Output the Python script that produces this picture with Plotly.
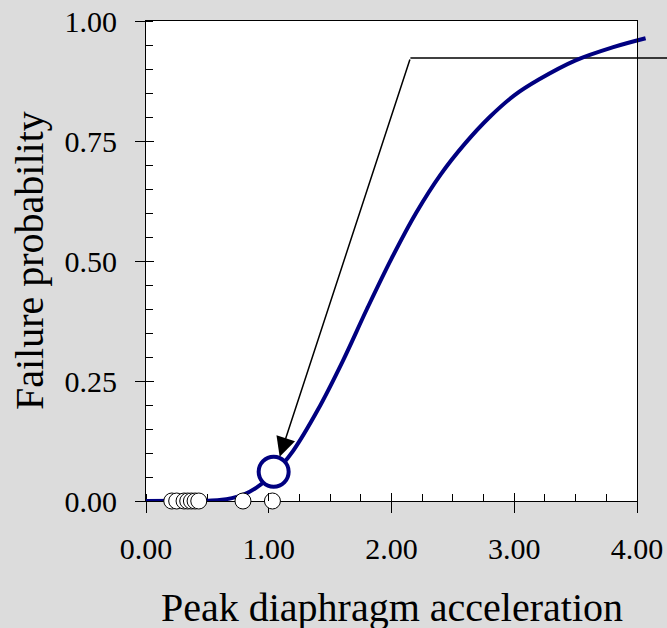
import plotly.graph_objects as go

# ---- data ----
curve_x = [0.0, 0.3, 0.5, 0.6, 0.7, 0.8, 0.9, 1.0, 1.1, 1.2, 1.4, 1.6, 1.8, 2.0,
           2.2, 2.4, 2.6, 2.8, 3.0, 3.2, 3.5, 3.8, 4.07]
curve_p = [0.0, 0.0003, 0.0006, 0.002, 0.006, 0.014, 0.028, 0.048, 0.073, 0.105,
           0.19, 0.29, 0.40, 0.505, 0.60, 0.68, 0.745, 0.80, 0.845, 0.878, 0.918,
           0.945, 0.964]

obs_x = [0.21, 0.25, 0.31, 0.34, 0.37, 0.40, 0.43, 0.79, 1.03]
obs_p = [0.0, 0.0, 0.0, 0.0, 0.0, 0.0, 0.0, 0.0, 0.0]

hl_x = [1.04]
hl_p = [0.061]

callout_x = [4.30, 2.154, 1.089]
callout_p = [0.923, 0.923, 0.092]

x_range = [0, 4]
y_range = [0, 1]
x_title = "Peak diaphragm acceleration"
y_title = "Failure probability"

# ---- geometry ----
W, H = 667, 628
ML, MR, MT, MB = 146, 0, 21, 127
plot_w = W - ML - MR
main_w = 491
D = main_w / plot_w
x2_max = x_range[1] / D

FONT = "Liberation Serif"
NAVY = "#000080"

fig = go.Figure()

fig.add_trace(go.Scatter(x=callout_x[:2], y=callout_p[:2], mode="lines",
                         line=dict(color="black", width=1.5),
                         xaxis="x2", yaxis="y", showlegend=False, hoverinfo="skip"))
fig.add_trace(go.Scatter(x=curve_x, y=curve_p, mode="lines",
                         line=dict(color=NAVY, width=4, shape="spline", smoothing=1.0),
                         xaxis="x2", yaxis="y", showlegend=False))
fig.add_trace(go.Scatter(x=obs_x, y=obs_p, mode="markers",
                         marker=dict(size=16, color="white", line=dict(color="black", width=1)),
                         cliponaxis=False, xaxis="x2", yaxis="y", showlegend=False))
fig.add_trace(go.Scatter(x=hl_x, y=hl_p, mode="markers",
                         marker=dict(size=30, color="white", line=dict(color=NAVY, width=4)),
                         cliponaxis=False, xaxis="x2", yaxis="y", showlegend=False))
fig.add_trace(go.Scatter(x=[], y=[], xaxis="x3", yaxis="y", showlegend=False))
fig.add_trace(go.Scatter(x=[], y=[], xaxis="x", yaxis="y2", showlegend=False))

fig.add_annotation(x=callout_x[2], y=callout_p[2], ax=callout_x[1], ay=callout_p[1],
                   xref="x2", yref="y", axref="x2", ayref="y", text="",
                   showarrow=True, arrowhead=2, arrowsize=2.6, arrowwidth=1.5,
                   arrowcolor="black", standoff=0)

fig.add_annotation(text=x_title, xref="x domain", yref="paper", x=0.5, y=-0.221,
                   xanchor="center", yanchor="middle", showarrow=False,
                   font=dict(family=FONT, size=40, color="black"))
fig.add_annotation(text=y_title, xref="paper", yref="y domain", x=(29 - ML) / plot_w, y=0.5,
                   xanchor="center", yanchor="middle", textangle=-90, showarrow=False,
                   font=dict(family=FONT, size=40, color="black"))

fig.add_shape(type="rect", xref="x domain", yref="y domain", x0=0, x1=1, y0=0, y1=1,
              fillcolor="white", line=dict(width=0), layer="below")

tickfont = dict(family=FONT, size=30, color="black")
fig.update_layout(
    width=W, height=H,
    margin=dict(l=ML, r=MR, t=MT, b=MB, pad=0, autoexpand=False),
    paper_bgcolor="#DCDCDC", plot_bgcolor="rgba(0,0,0,0)",
    showlegend=False,
    font=dict(family=FONT, color="black"),
    xaxis=dict(domain=[0, D], range=x_range, dtick=1, tick0=0, tickformat=".2f",
               ticks="outside", ticklen=11, tickwidth=1, tickcolor="black",
               showline=True, linecolor="black", linewidth=1, mirror=True,
               showgrid=False, zeroline=False, tickfont=tickfont, ticklabelstandoff=10,
               layer="below traces", automargin=False,
               minor=dict(dtick=0.25, ticks="inside", ticklen=7, tickwidth=1,
                          tickcolor="black", showgrid=False)),
    xaxis2=dict(domain=[0, 1], range=[0, x2_max], anchor="y", visible=False,
                automargin=False),
    xaxis3=dict(overlaying="x", range=x_range, anchor="y", side="bottom", dtick=1, tick0=0,
                ticks="inside", ticklen=8, tickwidth=1, tickcolor="black",
                showticklabels=False, showline=False, showgrid=False, zeroline=False,
                automargin=False),
    yaxis=dict(domain=[0, 1], range=y_range, dtick=0.25, tick0=0, tickformat=".2f",
               ticks="outside", ticklen=10, tickwidth=1, tickcolor="black",
               showline=True, linecolor="black", linewidth=1, mirror=True,
               showgrid=False, zeroline=False, tickfont=tickfont, ticklabelstandoff=12,
               layer="below traces", automargin=False,
               minor=dict(dtick=0.05, ticks="inside", ticklen=7, tickwidth=1,
                          tickcolor="black", showgrid=False)),
    yaxis2=dict(overlaying="y", range=y_range, anchor="x", side="left", dtick=0.25, tick0=0,
                ticks="inside", ticklen=8, tickwidth=1, tickcolor="black",
                showticklabels=False, showline=False, showgrid=False, zeroline=False,
                automargin=False),
)

fig.write_html("out.html")
